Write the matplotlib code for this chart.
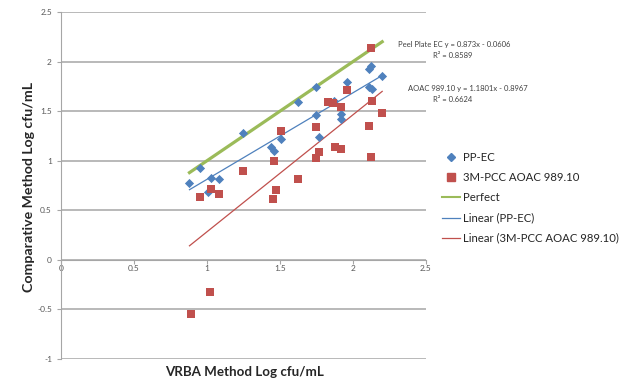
import numpy as np
import matplotlib
matplotlib.use("Agg")
import matplotlib.pyplot as plt
from matplotlib.lines import Line2D

# PP-EC (Peel Plate EC) vs VRBA
pp_x = [0.88, 0.95, 1.03, 1.08, 1.01, 1.25, 1.44, 1.46, 1.51, 1.62, 1.75,
        1.75, 1.77, 1.87, 1.96, 1.92, 1.92, 2.11, 2.12, 2.11, 2.13, 2.20]
pp_y = [0.78, 0.93, 0.83, 0.82, 0.68, 1.28, 1.14, 1.10, 1.22, 1.59, 1.74,
        1.46, 1.24, 1.60, 1.79, 1.47, 1.42, 1.93, 1.96, 1.74, 1.72, 1.85]

# 3M-PCC AOAC 989.10 vs VRBA
pcc_x = [0.89, 1.02, 0.95, 1.03, 1.08, 1.25, 1.46, 1.47, 1.45, 1.51, 1.62, 1.75,
         1.77, 1.75, 1.83, 1.86, 1.92, 1.96, 1.88, 1.92, 2.13, 2.11, 2.12, 2.12, 2.20]
pcc_y = [-0.55, -0.32, 0.63, 0.71, 0.66, 0.90, 1.00, 0.70, 0.61, 1.30, 0.82, 1.34,
         1.09, 1.03, 1.59, 1.58, 1.54, 1.71, 1.14, 1.12, 1.60, 1.35, 1.04, 2.14, 1.48]

# trendline coefficients as printed on the chart
pp_fit = (0.873, -0.0606, 0.8589)
pcc_fit = (1.1801, -0.8967, 0.6624)

blue = "#4F81BD"
red = "#C0504D"
green = "#9BBB59"
grid_c = "#A6A6A6"
text_c = "#595959"

plt.rcParams['font.family'] = ['Lato', 'DejaVu Sans']

fig = plt.figure(figsize=(6.21, 3.84), dpi=100)
ax = fig.add_axes([61 / 621, 1 - 359 / 384, 365 / 621, 347 / 384])

ax.set_xlim(0, 2.5)
ax.set_ylim(-1, 2.5)
ax.set_yticks(np.arange(-1, 2.51, 0.5))
ax.set_xticks(np.arange(0, 2.51, 0.5))
ax.set_yticklabels(["-1", "-0.5", "0", "0.5", "1", "1.5", "2", "2.5"])
ax.set_xticklabels(["0", "0.5", "1", "1.5", "2", "2.5"])
ax.grid(axis='y', color=grid_c, linewidth=1.1, zorder=0)
ax.set_axisbelow(True)

for s in ['top', 'right']:
    ax.spines[s].set_visible(False)
ax.spines['bottom'].set_position(('data', 0))
ax.spines['bottom'].set_color(grid_c)
ax.spines['left'].set_color(grid_c)
ax.tick_params(axis='both', colors=grid_c, labelcolor=text_c, labelsize=6,
               length=3, width=0.8, direction='out')
ax.tick_params(axis='x', pad=1)

# perfect agreement line
xmin, xmax = min(pp_x), max(pp_x)
perf = np.array([xmin, xmax])
ax.plot(perf, perf, color=green, linewidth=2.3, zorder=2)

# trendlines
ax.plot(perf, pp_fit[0] * perf + pp_fit[1], color=blue, linewidth=0.9, zorder=2)
ax.plot(perf, pcc_fit[0] * perf + pcc_fit[1], color=red, linewidth=0.9, zorder=2)

ax.scatter(pp_x, pp_y, marker='D', s=22, color=blue, zorder=3, linewidths=0)
ax.scatter(pcc_x, pcc_y, marker='s', s=34, color=red, zorder=4, linewidths=0)

# trendline labels
fig.text(454 / 621, 1 - 44 / 384, "Peel Plate EC y = %.3fx - %.4f" % (pp_fit[0], -pp_fit[1]),
         ha='center', va='center', fontsize=5.5, color='#404040')
fig.text(453 / 621, 1 - 55 / 384, "R² = %.4f" % pp_fit[2],
         ha='center', va='center', fontsize=5.5, color='#404040')
fig.text(468 / 621, 1 - 88 / 384, "AOAC 989.10 y = %.4fx - %.4f" % (pcc_fit[0], -pcc_fit[1]),
         ha='center', va='center', fontsize=5.5, color='#404040')
fig.text(453 / 621, 1 - 99 / 384, "R² = %.4f" % pcc_fit[2],
         ha='center', va='center', fontsize=5.5, color='#404040')

ax.set_xlabel("VRBA Method Log cfu/mL", fontsize=9.6, fontweight='bold', color='#262626')
ax.xaxis.set_label_coords(0.504, -0.02)
ax.set_ylabel("Comparative Method Log cfu/mL", fontsize=10.2, fontweight='bold', color='#262626')
ax.yaxis.set_label_coords(-0.071, 0.496)

handles = [
    Line2D([], [], marker='D', color=blue, linestyle='none', markersize=4),
    Line2D([], [], marker='s', color=red, linestyle='none', markersize=5.5),
    Line2D([], [], color=green, linewidth=1.5),
    Line2D([], [], color=blue, linewidth=0.9),
    Line2D([], [], color=red, linewidth=0.9),
]
labels = ["PP-EC", "3M-PCC AOAC 989.10", "Perfect", "Linear (PP-EC)",
          "Linear (3M-PCC AOAC 989.10)"]
fig.legend(handles, labels, loc='upper left', bbox_to_anchor=(432 / 621, 1 - 142 / 384),
           frameon=False, fontsize=8.2, handlelength=1.6, handletextpad=0.25,
           labelspacing=0.8, labelcolor='#262626')

fig.savefig("out.png", dpi=100)
plt.close(fig)
